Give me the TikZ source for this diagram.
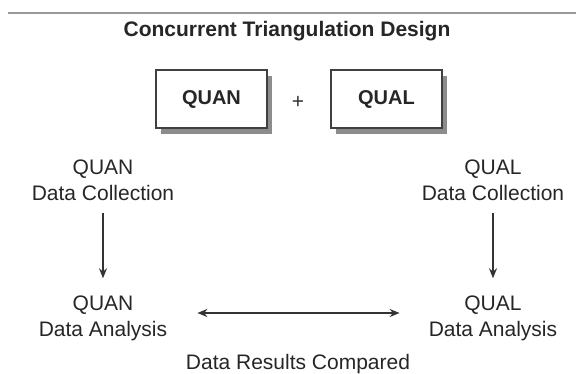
\documentclass[tikz,border=0pt]{standalone}
\usepackage{fontspec}
\setmainfont{Liberation Sans}
\usepackage{tikz}
\usetikzlibrary{arrows.meta, shadows}

\begin{document}
\begin{tikzpicture}[
    x=1pt, y=-1pt,
    box/.style={rectangle, draw=black!75, line width=1.4pt, fill=white, minimum width=111pt, minimum height=58pt, font=\fontsize{20}{24}\selectfont\bfseries, text=black!85, drop shadow={shadow xshift=5pt, shadow yshift=-6pt, fill=black!45, opacity=1}},
    stage/.style={align=center, inner sep=0pt, font=\fontsize{21}{26}\selectfont, text=black!85},
    arrow/.style={-{Stealth[length=10pt, width=8pt]}, line width=1.4pt, draw=black!80},
    both/.style={{Stealth[length=10pt, width=8pt]}-{Stealth[length=10pt, width=8pt]}, line width=1.4pt, draw=black!80}
]
\useasboundingbox (0,0) rectangle (576,374);

% Title
\draw[line width=1.5pt, black!40] (8,13) -- (576,13);
\node[font=\fontsize{21}{24}\selectfont\bfseries, text=black!85] (title) at (287,31) {Concurrent Triangulation Design};

% Design boxes
\node[box] (quan) at (211.5,99) {QUAN};
\node[box] (qual) at (386.5,99) {QUAL};
\node[font=\fontsize{21}{24}\selectfont, text=black!80] (plus) at (298,102) {+};

% Stages
\node[stage] (quancoll) at (103,180) {QUAN\\Data Collection};
\node[stage] (qualcoll) at (493,180) {QUAL\\Data Collection};
\node[stage] (quananal) at (103,318) {QUAN\\Data Analysis};
\node[stage] (qualanal) at (493,318) {QUAL\\Data Analysis};

% Arrows
\draw[arrow, shorten <=12pt, shorten >=17pt] (quancoll) -- (quananal);
\draw[arrow, shorten <=12pt, shorten >=17pt] (qualcoll) -- (qualanal);
\draw[both, shorten <=30pt, shorten >=29pt] ([yshift=5pt]quananal.east) -- ([yshift=5pt]qualanal.west)
    node[stage, midway, below=41pt] (compared) {Data Results Compared};

\end{tikzpicture}
\end{document}
